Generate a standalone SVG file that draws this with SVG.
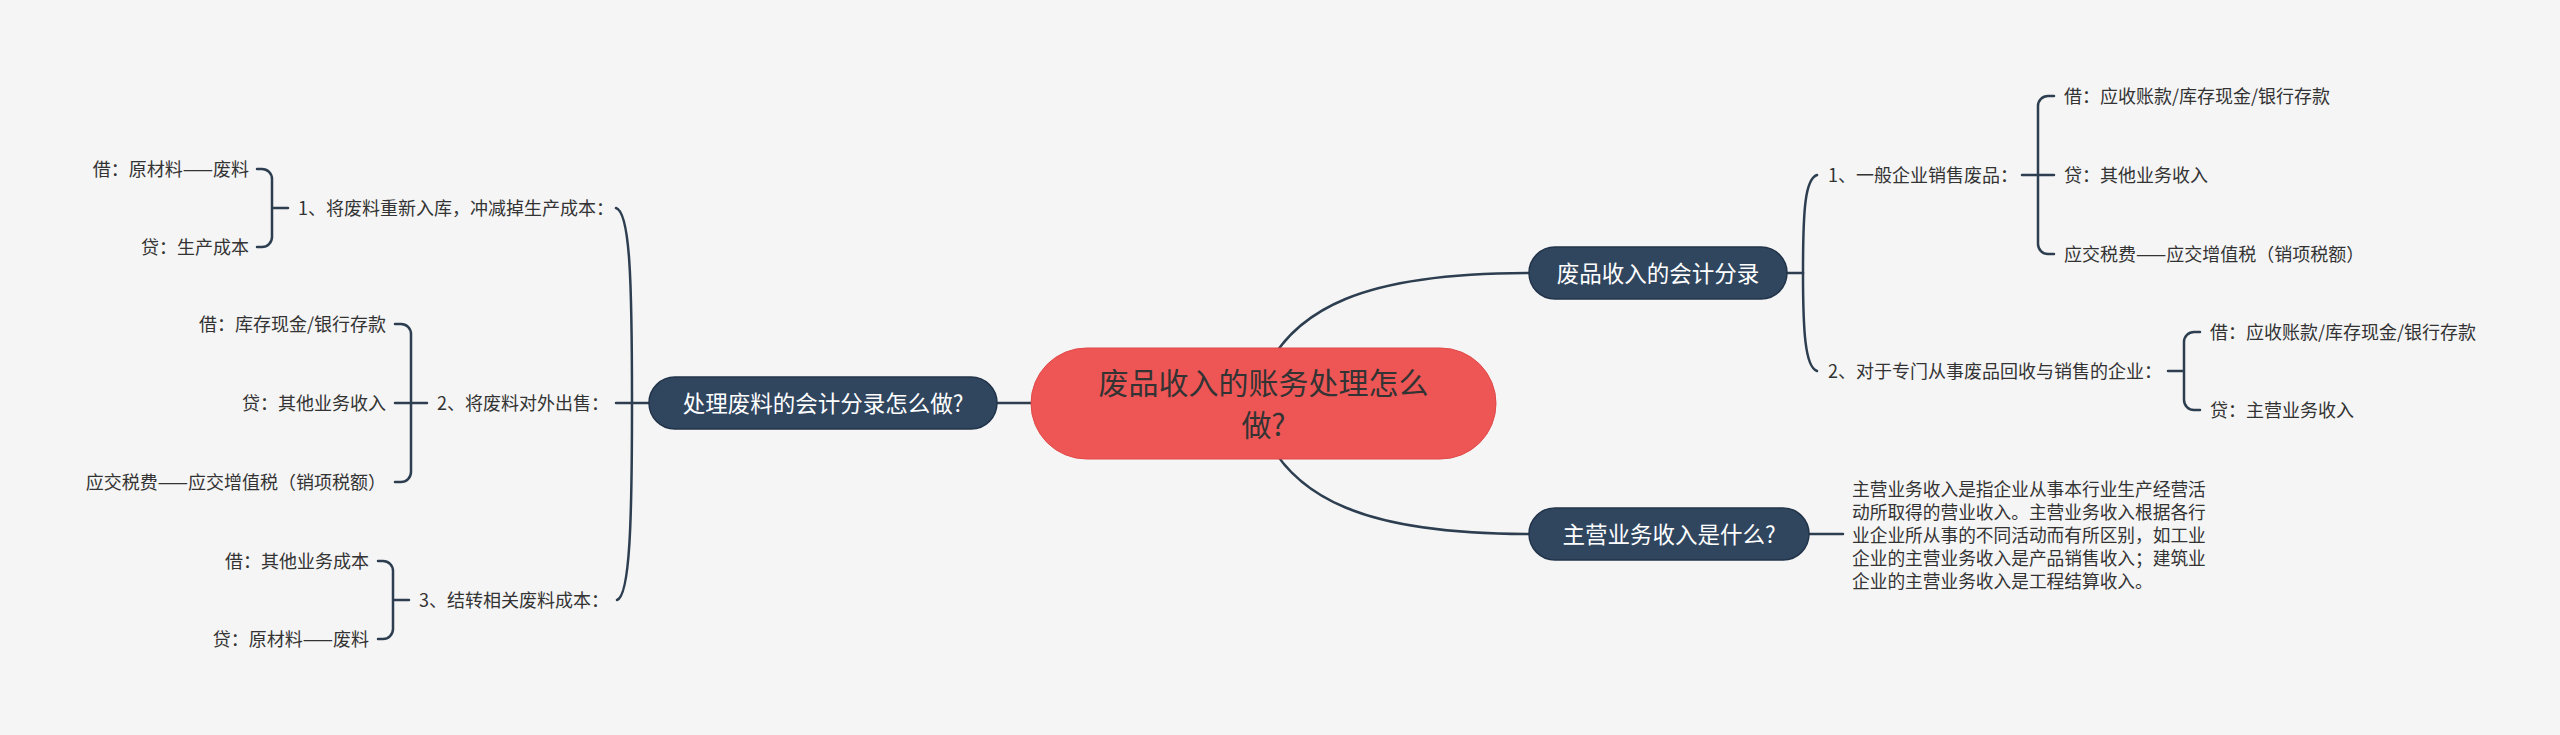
<svg xmlns="http://www.w3.org/2000/svg" width="2560" height="735" viewBox="0 0 2560 735">
<style>
.bg{fill:#f5f5f5}
.ln{fill:none;stroke:#2c3e50;stroke-width:2.5;stroke-linecap:round}
.root{fill:#ee5656;stroke:#e04848;stroke-width:1}
.sub{fill:#30465f;stroke:#22344a;stroke-width:1.5}
.t{font-family:"Noto Sans CJK SC","Noto Sans",sans-serif;fill:#333333;font-size:18px}
.p{font-size:17.7px}
.tr{font-family:"Noto Sans CJK SC","Noto Sans",sans-serif;fill:#333333;font-size:30px;text-anchor:middle}
.ts{font-family:"Noto Sans CJK SC","Noto Sans",sans-serif;fill:#ffffff;font-size:22.5px;text-anchor:middle}
.e{text-anchor:end}
</style>
<rect class="bg" x="0" y="0" width="2560" height="735"/>
<g id="connectors">
<path class="ln" d="M1255,400 C1280,300 1380,273 1529,273"/>
<path class="ln" d="M1255,406 C1280,506 1380,534 1529,534"/>
<path class="ln" d="M997,403 H1031"/>
<path class="ln" d="M649,403 H616"/>
<path class="ln" d="M632,403 C632,280 630,212 616,208"/>
<path class="ln" d="M632,403 C632,520 630,596 617,600"/>
<path class="ln" d="M257,169 H262 A10,10 0 0 1 272,179 V237 A10,10 0 0 1 262,247 H257 M272,208 H288"/>
<path class="ln" d="M395,324 H401 A10,10 0 0 1 411,334 V472 A10,10 0 0 1 401,482 H395 M395,403 H427"/>
<path class="ln" d="M378,561 H383 A10,10 0 0 1 393,571 V629 A10,10 0 0 1 383,639 H378 M393,600 H409"/>
<path class="ln" d="M1787,273 H1803"/>
<path class="ln" d="M1803,273 C1803,210 1805,179 1817,175"/>
<path class="ln" d="M1803,273 C1803,330 1805,367 1817,371"/>
<path class="ln" d="M2054,96 H2048 A10,10 0 0 0 2038,106 V244 A10,10 0 0 0 2048,254 H2054 M2022,175 H2054"/>
<path class="ln" d="M2200,332 H2194 A10,10 0 0 0 2184,342 V400 A10,10 0 0 0 2194,410 H2200 M2168,371 H2184"/>
<path class="ln" d="M1809,534 H1843"/>
</g>
<g id="root">
<rect class="root" x="1031" y="348" width="465" height="111" rx="55.5"/>
<text class="tr" x="1263.5" y="394">废品收入的账务处理怎么</text>
<text class="tr" x="1263.5" y="436">做?</text>
</g>
<g id="n-left">
<rect class="sub" x="649" y="377" width="348" height="52" rx="26"/>
<text class="ts" x="823" y="411.5">处理废料的会计分录怎么做?</text>
</g>
<g id="n-right1">
<rect class="sub" x="1529" y="247" width="258" height="52" rx="26"/>
<text class="ts" x="1658" y="281.5">废品收入的会计分录</text>
</g>
<g id="n-right2">
<rect class="sub" x="1529" y="508" width="280" height="52" rx="26"/>
<text class="ts" x="1669" y="542.5">主营业务收入是什么?</text>
</g>
<g id="l1"><text class="t" x="298" y="215">1、将废料重新入库，冲减掉生产成本：</text></g>
<g id="l1a"><text class="t e" x="249" y="176">借：原材料——废料</text></g>
<g id="l1b"><text class="t e" x="249" y="254">贷：生产成本</text></g>
<g id="l2"><text class="t" x="437" y="410">2、将废料对外出售：</text></g>
<g id="l2a"><text class="t e" x="386" y="331">借：库存现金/银行存款</text></g>
<g id="l2b"><text class="t e" x="386" y="410">贷：其他业务收入</text></g>
<g id="l2c"><text class="t e" x="386" y="489">应交税费——应交增值税（销项税额）</text></g>
<g id="l3"><text class="t" x="419" y="607">3、结转相关废料成本：</text></g>
<g id="l3a"><text class="t e" x="369" y="568">借：其他业务成本</text></g>
<g id="l3b"><text class="t e" x="369" y="646">贷：原材料——废料</text></g>
<g id="r1"><text class="t" x="1828" y="182">1、一般企业销售废品：</text></g>
<g id="r1a"><text class="t" x="2064" y="103">借：应收账款/库存现金/银行存款</text></g>
<g id="r1b"><text class="t" x="2064" y="182">贷：其他业务收入</text></g>
<g id="r1c"><text class="t" x="2064" y="261">应交税费——应交增值税（销项税额）</text></g>
<g id="r2"><text class="t" x="1828" y="378">2、对于专门从事废品回收与销售的企业：</text></g>
<g id="r2a"><text class="t" x="2210" y="339">借：应收账款/库存现金/银行存款</text></g>
<g id="r2b"><text class="t" x="2210" y="417">贷：主营业务收入</text></g>
<g id="r3">
<text class="t p" x="1852" y="496">主营业务收入是指企业从事本行业生产经营活</text>
<text class="t p" x="1852" y="519">动所取得的营业收入。主营业务收入根据各行</text>
<text class="t p" x="1852" y="542">业企业所从事的不同活动而有所区别，如工业</text>
<text class="t p" x="1852" y="565">企业的主营业务收入是产品销售收入；建筑业</text>
<text class="t p" x="1852" y="588">企业的主营业务收入是工程结算收入。</text>
</g>
</svg>
